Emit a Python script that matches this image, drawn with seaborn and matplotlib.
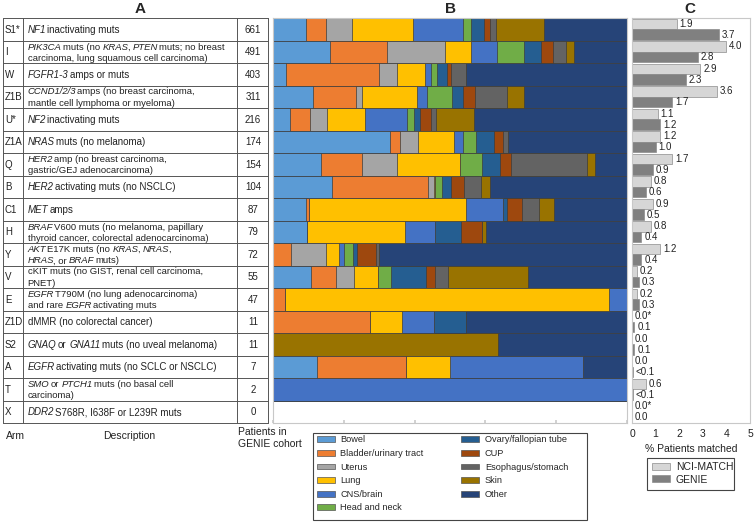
import re
import matplotlib
matplotlib.use("Agg")
import matplotlib.pyplot as plt
import matplotlib.transforms as mtransforms
from matplotlib.patches import Patch, Rectangle
import pandas as pd
import seaborn as sns
import numpy as np

arms = ["S1*", "I", "W", "Z1B", "U*", "Z1A", "Q", "B", "C1", "H", "Y", "V", "E", "Z1D", "S2", "A", "T", "X"]
# italic gene names are wrapped in {}
descriptions = [
    "{NF1} inactivating muts",
    "{PIK3CA} muts (no {KRAS}, {PTEN} muts; no breast\ncarcinoma, lung squamous cell carcinoma)",
    "{FGFR1-3} amps or muts",
    "{CCND1/2/3} amps (no breast carcinoma,\nmantle cell lymphoma or myeloma)",
    "{NF2} inactivating muts",
    "{NRAS} muts (no melanoma)",
    "{HER2} amp (no breast carcinoma,\ngastric/GEJ adenocarcinoma)",
    "{HER2} activating muts (no NSCLC)",
    "{MET} amps",
    "{BRAF} V600 muts (no melanoma, papillary\nthyroid cancer, colorectal adenocarcinoma)",
    "{AKT} E17K muts (no {KRAS}, {NRAS},\n{HRAS}, or {BRAF} muts)",
    "cKIT muts (no GIST, renal cell carcinoma,\nPNET)",
    "{EGFR} T790M (no lung adenocarcinoma)\nand rare {EGFR} activating muts",
    "dMMR (no colorectal cancer)",
    "{GNAQ} or {GNA11} muts (no uveal melanoma)",
    "{EGFR} activating muts (no SCLC or NSCLC)",
    "{SMO} or {PTCH1} muts (no basal cell\ncarcinoma)",
    "{DDR2} S768R, I638F or L239R muts",
]
genie_patients = [661, 491, 403, 311, 216, 174, 154, 104, 87, 79, 72, 55, 47, 11, 11, 7, 2, 0]

# % of matched patients per tissue (panel B)
tissues = ["Bowel", "Bladder/urinary tract", "Uterus", "Lung", "CNS/brain", "Head and neck",
           "Ovary/fallopian tube", "CUP", "Esophagus/stomach", "Skin", "Other"]
bowel = [9.2, 16.2, 3.8, 11.3, 4.7, 33.0, 13.7, 16.7, 9.2, 9.6, 0, 10.6, 0, 0, 0, 12.5, 0, 0]
bladder = [5.9, 16.0, 26.2, 12.1, 5.8, 2.8, 11.3, 27.2, 1.0, 0, 5.0, 7.1, 3.3, 27.3, 0, 25.0, 0, 0]
uterus = [7.4, 16.3, 5.1, 1.9, 4.7, 5.2, 9.9, 1.6, 0, 0, 9.9, 5.2, 0, 0, 0, 0, 0, 0]
lung = [17.2, 7.3, 7.8, 15.3, 10.8, 10.1, 17.9, 0.4, 44.3, 27.6, 3.8, 6.9, 91.7, 9.1, 0, 12.5, 0, 0]
cns = [14.2, 7.5, 1.6, 3.0, 11.8, 2.5, 0, 0, 10.3, 8.5, 1.3, 0, 5.0, 9.1, 0, 37.5, 100, 0]
head_neck = [2.1, 7.5, 1.9, 6.9, 2.0, 3.8, 6.1, 1.9, 0, 0, 2.5, 3.5, 0, 0, 0, 0, 0, 0]
ovary = [3.6, 4.7, 2.6, 3.3, 1.8, 5.1, 5.2, 2.6, 1.2, 7.4, 1.3, 9.9, 0, 9.1, 0, 0, 0, 0]
cup = [1.7, 3.6, 1.1, 3.3, 3.1, 2.5, 3.0, 3.8, 4.4, 5.8, 5.3, 2.6, 0, 0, 0, 0, 0, 0]
esophagus = [1.7, 3.6, 4.3, 9.0, 1.2, 1.5, 21.5, 4.7, 4.8, 0, 0.8, 3.6, 0, 0, 0, 0, 0, 0]
skin = [13.8, 2.3, 0, 4.9, 10.8, 0, 2.4, 2.6, 4.2, 1.2, 0, 22.5, 0, 0, 63.6, 0, 0, 0]
other = [23.4, 14.9, 45.5, 29.1, 43.2, 33.6, 9.0, 38.7, 20.5, 39.8, 70.1, 28.1, 0, 45.5, 36.4, 12.5, 0, 0]
tissue_colors = ["#5B9BD5", "#ED7D31", "#A5A5A5", "#FFC000", "#4472C4", "#70AD47",
                 "#255E91", "#9E480E", "#636363", "#997300", "#264478"]

# panel C
nci_match = [1.9, 4.0, 2.9, 3.6, 1.1, 1.2, 1.7, 0.8, 0.9, 0.8, 1.2, 0.2, 0.2, 0.0, 0.0, 0.0, 0.6, 0.0]
nci_labels = ["1.9", "4.0", "2.9", "3.6", "1.1", "1.2", "1.7", "0.8", "0.9", "0.8", "1.2", "0.2", "0.2",
              "0.0*", "0.0", "0.0", "0.6", "0.0*"]
genie = [3.7, 2.8, 2.3, 1.7, 1.2, 1.0, 0.9, 0.6, 0.5, 0.4, 0.4, 0.3, 0.3, 0.1, 0.1, 0.04, 0.04, 0.0]
genie_labels = ["3.7", "2.8", "2.3", "1.7", "1.2", "1.0", "0.9", "0.6", "0.5", "0.4", "0.4", "0.3", "0.3",
                "0.1", "0.1", "<0.1", "<0.1", "0.0"]

sns.set_theme(style="white")
plt.rcParams['font.family'] = ['Liberation Sans', 'DejaVu Sans']

W, H = 755, 525
fig = plt.figure(figsize=(7.55, 5.25), dpi=100)
renderer = fig.canvas.get_renderer()
bottom = 1 - 423 / H
height = 405 / H
fs = 7
tc = "#222222"


def text_width(s, size, style="normal"):
    t = fig.text(0, 0, s, fontsize=size, style=style)
    w = t.get_window_extent(renderer).width
    t.remove()
    return w


def rich_text(ax, x, y, line, size):
    # draws a line where {...} parts are italic, piece by piece
    space = text_width("a a", size) - text_width("aa", size)
    px = 0.0
    for seg in re.split(r"(\{[^}]*\})", line):
        if not seg:
            continue
        italic = seg.startswith("{")
        if italic:
            seg = seg[1:-1]
        px += (len(seg) - len(seg.lstrip(" "))) * space
        core = seg.strip(" ")
        if core:
            tr = mtransforms.offset_copy(ax.transData, fig=fig, x=px, y=0, units="dots")
            t = ax.text(x, y, core, transform=tr, ha="left", va="baseline", fontsize=size,
                        style="italic" if italic else "normal", color=tc)
            px += t.get_window_extent(renderer).width
            if italic:
                px -= 1.3  # italic box overhang
        px += (len(seg) - len(seg.rstrip(" "))) * space


# ---- A: table
axA = fig.add_axes([3 / W, bottom, 265.5 / W, height])
axA.set_xlim(0, 265.5)
axA.set_ylim(17.5, -0.5)
axA.axis("off")
for i in range(19):
    axA.plot([0, 265.3], [i - 0.5, i - 0.5], color="#555555", lw=0.7, clip_on=False)
for xv in [0, 19.7, 234.3, 265.3]:
    axA.plot([xv, xv], [-0.5, 17.5], color="#555555", lw=0.7, clip_on=False)
for i in range(len(arms)):
    axA.text(1.8, i + 0.155, arms[i], ha="left", va="baseline", fontsize=fs, color=tc)
    lines = descriptions[i].split("\n")
    if len(lines) == 1:
        rich_text(axA, 24.5, i + 0.155, lines[0], fs)
    else:
        rich_text(axA, 24.5, i - 0.10, lines[0], 6.8)
        rich_text(axA, 24.5, i + 0.41, lines[1], 6.8)
    axA.text(250, i + 0.155, str(genie_patients[i]), ha="center", va="baseline", fontsize=fs, color=tc)

# ---- B: stacked tissue bars
axB = fig.add_axes([273 / W, bottom, 354 / W, height])
shares = np.array([bowel, bladder, uterus, lung, cns, head_neck, ovary, cup, esophagus, skin, other])
totals = shares.sum(axis=0)
shares = np.where(totals > 0, shares / np.where(totals > 0, totals, 1) * 100, 0)
cum = np.cumsum(shares, axis=0)
for k in range(len(tissues) - 1, -1, -1):
    sns.barplot(x=cum[k], y=arms, orient="h", color=tissue_colors[k], saturation=1,
                width=1.0, edgecolor="#3c3c3c", linewidth=0.5, errorbar=None, ax=axB)
axB.set_xlim(0, 100)
axB.set_ylim(17.5, -0.5)
axB.set_xticks([0, 20, 40, 60, 80, 100])
axB.set_xticklabels([])
axB.set_yticks([])
axB.set_xlabel("")
axB.set_ylabel("")
axB.tick_params(axis="x", direction="in", length=2, color="#cccccc", bottom=True)
for s in axB.spines.values():
    s.set_color("#c8c8c8")
    s.set_linewidth(0.8)

# ---- C: % patients matched
axC = fig.add_axes([632 / W, bottom, 118 / W, height])
dfc = pd.DataFrame({
    "arm": arms * 2,
    "source": ["NCI-MATCH"] * len(arms) + ["GENIE"] * len(arms),
    "value": nci_match + genie,
})
pal = {"NCI-MATCH": "#d6d6d6", "GENIE": "#808080"}
sns.barplot(data=dfc, x="value", y="arm", hue="source", palette=pal, saturation=1,
            width=0.94, edgecolor="#8c8c8c", linewidth=0.5, errorbar=None, legend=False, ax=axC)
axC.bar_label(axC.containers[0], labels=nci_labels, padding=2, fontsize=fs, color=tc)
axC.bar_label(axC.containers[1], labels=genie_labels, padding=2, fontsize=fs, color=tc)
axC.set_xlim(0, 5)
axC.set_ylim(17.5, -0.5)
axC.set_xticks([0, 1, 2, 3, 4, 5])
axC.set_yticks([])
axC.set_ylabel("")
axC.set_xlabel("% Patients matched", fontsize=7.5, color=tc, labelpad=4)
axC.tick_params(axis="x", labelsize=7.5, colors=tc, pad=4, length=0)
for s in axC.spines.values():
    s.set_color("#c8c8c8")
    s.set_linewidth(0.8)

# ---- titles and bottom labels
for lab, xp in [("A", 140), ("B", 450), ("C", 690)]:
    fig.text(xp / W, 1 - 9 / H, lab, ha="center", va="center", fontsize=11, fontweight="bold")
fig.text(6 / W, 1 - 436 / H, "Arm", ha="left", va="center", fontsize=7.5, color=tc)
fig.text(129 / W, 1 - 436 / H, "Description", ha="center", va="center", fontsize=7.5, color=tc)
fig.text(238 / W, 1 - 438 / H, "Patients in\nGENIE cohort", ha="left", va="center", fontsize=7.5,
         color=tc, linespacing=1.15)

# ---- legends (frames drawn as plain boxes)
hB = [Patch(facecolor=c, edgecolor="#555555", linewidth=0.5) for c in tissue_colors]
fig.legend(hB, tissues, ncol=2, loc="upper left", bbox_to_anchor=(316.5 / W, 1 - 435.5 / H),
           fontsize=6.6, frameon=False, handlelength=2.0, handleheight=0.6, columnspacing=4.1,
           labelspacing=0.5, borderpad=0, handletextpad=0.6, borderaxespad=0)
fig.patches.append(Rectangle((313 / W, 1 - 520 / H), 274 / W, 87 / H, transform=fig.transFigure,
                             facecolor="none", edgecolor="#444444", linewidth=0.8))

hC = [Patch(facecolor=pal["NCI-MATCH"], edgecolor="#8c8c8c", linewidth=0.5),
      Patch(facecolor=pal["GENIE"], edgecolor="#8c8c8c", linewidth=0.5)]
fig.legend(hC, ["NCI-MATCH", "GENIE"], loc="upper left", bbox_to_anchor=(651.5 / W, 1 - 462 / H),
           fontsize=7.5, frameon=False, handlelength=1.8, handleheight=0.65, labelspacing=0.25,
           borderpad=0, handletextpad=0.55, borderaxespad=0)
fig.patches.append(Rectangle((647 / W, 1 - 490 / H), 87 / W, 32 / H, transform=fig.transFigure,
                             facecolor="none", edgecolor="#444444", linewidth=0.8))

fig.savefig("out.png", dpi=100)
